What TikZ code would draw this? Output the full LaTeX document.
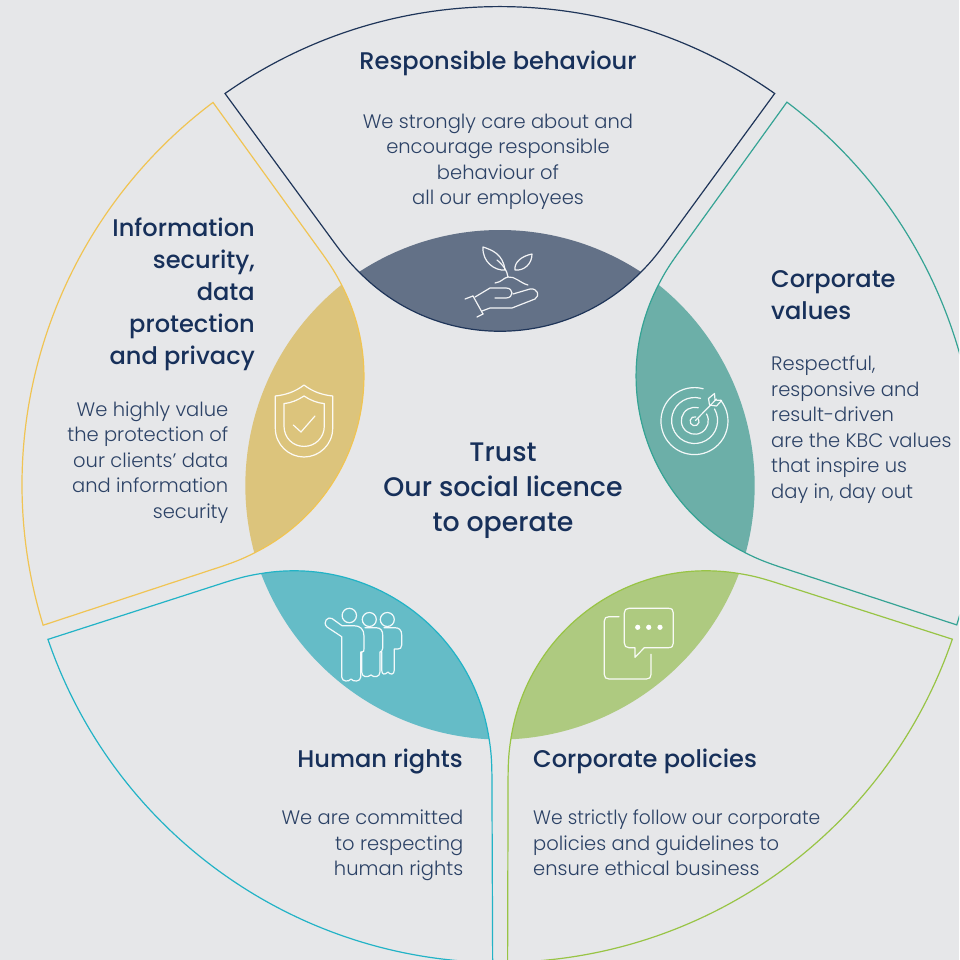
\documentclass[tikz,border=0pt]{standalone}
\usepackage{fontspec}
\setmainfont{Poppins}
\newfontfamily\bodyf{Poppins Light}
\newfontfamily\headf{Poppins Medium}
\definecolor{bgc}{HTML}{E6E7E9}
\definecolor{titlec}{HTML}{17305A}
\definecolor{bodyc}{HTML}{2C4266}
\definecolor{fillA}{HTML}{637187}\definecolor{lineA}{HTML}{1F3559}
\definecolor{fillB}{HTML}{6CAFA8}\definecolor{lineB}{HTML}{35A394}
\definecolor{fillC}{HTML}{AECA80}\definecolor{lineC}{HTML}{98C445}
\definecolor{fillD}{HTML}{65BCC7}\definecolor{lineD}{HTML}{22B3C6}
\definecolor{fillE}{HTML}{DCC47C}\definecolor{lineE}{HTML}{F0C453}
\tikzset{
  titletext/.style={inner sep=0pt,text=titlec,font=\headf\fontsize{24.1}{32}\selectfont},
  bodytext/.style={inner sep=0pt,text=bodyc,font=\bodyf\fontsize{19.5}{25.5}\selectfont},
  centertext/.style={inner sep=0pt,text=titlec,font=\headf\fontsize{26.8}{35}\selectfont},
  icon/.style={draw=white,line width=1.2pt,line cap=round,line join=round,opacity=.92},
}
\newcommand{\petal}[3]{%
  \begin{scope}[rotate around={#1:(500,484.5)}]
    \fill[#2] (359,272) .. controls (444.6,216) and (555.4,216) .. (641,272)
       .. controls (563.4,351) and (436.6,351) .. (359,272) -- cycle;
    \draw[#3,line width=1.2pt,line join=miter] (225,93.5) arc[start angle=-125.1,end angle=-54.9,radius=478]
       -- (664,245) .. controls (655,257) and (650,263) .. (641,272)
       .. controls (563.4,351) and (436.6,351) .. (359,272)
       .. controls (350,263) and (345,257) .. (336,245) -- cycle;
  \end{scope}}
\begin{document}
\begin{tikzpicture}[x=1pt,y=1pt,yscale=-1]
\useasboundingbox (0,0) rectangle (959,960);
\fill[bgc] (0,0) rectangle (959,960);
\clip (0,0) rectangle (959,960);
\petal{0}{fillA}{lineA}
\petal{72}{fillB}{lineB}
\petal{144}{fillC}{lineC}
\petal{216}{fillD}{lineD}
\petal{288}{fillE}{lineE}

% texts
\node[titletext,anchor=north] (t1) at (498,51) {Responsible behaviour};
\node[bodytext,anchor=north,align=center] (b1) at (498,113.5) {We strongly care about and\\encourage responsible\\behaviour of\\all our employees};
\node[titletext,anchor=north east,align=right] (t2) at (255,218) {Information\\security,\\data\\protection\\and privacy};
\node[bodytext,anchor=north east,align=right] (b2) at (228.5,401.5) {We highly value\\the protection of\\our clients’ data\\and information\\security};
\node[titletext,anchor=north west,align=left] (t3) at (771,270) {Corporate\\values};
\node[bodytext,anchor=north west,align=left] (b3) at (771,356) {Respectful,\\responsive and\\result-driven\\are the KBC values\\that inspire us\\day in, day out};
\node[titletext,anchor=north east] (t4) at (463,749) {Human rights};
\node[bodytext,anchor=north east,align=right] (b4) at (463.5,810) {We are committed\\to respecting\\human rights};
\node[titletext,anchor=north west] (t5) at (533,749) {Corporate policies};
\node[bodytext,anchor=north west,align=left] (b5) at (533,810) {\scalebox{0.96}[1]{We strictly follow our corporate}\\policies and guidelines to\\ensure ethical business};
\node[centertext,anchor=north,align=center] (c) at (503,443) {Trust\\Our social licence\\to operate};

% plant and hand icon
\draw[icon] (483,247) .. controls (492,250) and (503,254) .. (505,270)
   .. controls (495,271) and (482,262) .. (483,247) -- cycle;
\draw[icon] (497,260) .. controls (503,265) and (507,270) .. (508,277);
\draw[icon] (532,254) .. controls (522,256) and (514,262) .. (515,270)
   .. controls (524,271) and (532,264) .. (532,254) -- cycle;
\draw[icon] (495,283) .. controls (502,282) and (503,278) .. (508,277)
   .. controls (515,276) and (520,283) .. (528,285);
\draw[icon] (465,299) -- (473,296);
\draw[icon] (473,296) -- (483,314);
\draw[icon] (477,317) -- (483,314);
\draw[icon] (475,297) -- (490,288) -- (506,288) .. controls (514,288) and (514,298) .. (506,298) -- (495,298);
\draw[icon] (513,294) -- (530,289) .. controls (538,288) and (540,296) .. (535,299)
   -- (512,308) -- (490,308) -- (482,311);

% target icon
\draw[icon] (720.5,400) arc[start angle=-39,end angle=285,radius=33.5];
\draw[icon] (714.5,409) arc[start angle=-30,end angle=285,radius=23];
\draw[icon] (706.5,414) arc[start angle=-30,end angle=285,radius=13.5];
\draw[icon] (698.5,419) arc[start angle=-30,end angle=285,radius=4.5];
\draw[icon] (695.5,420.5) -- (716.5,399);
\draw[icon] (709.5,405) -- (708.5,398.5) -- (714.5,393.5) -- (715,400) -- (721.5,400.5) -- (716.5,406) -- cycle;

% people icon
\draw[icon] (349.3,615.5) circle[radius=7.2];
\draw[icon] (369.3,619.5) circle[radius=7];
\draw[icon] (387.3,619.5) circle[radius=7];
\draw[icon] (342,625.7) -- (332,618.5) .. controls (328,616) and (322,622) .. (327,627)
   -- (341.7,636.7) -- (341.7,677) .. controls (342,682) and (349,682) .. (351,679)
   .. controls (353,682) and (360.7,682) .. (360.7,677) -- (360.7,652) -- (362,652)
   .. controls (364,652) and (364,651) .. (364,648) -- (364,636)
   .. controls (364,629) and (360,625.7) .. (354,625.7) -- (342,625.7);
\draw[icon] (365,627.7) -- (376,627.7) .. controls (381,627.7) and (382.7,631) .. (382.7,635)
   -- (382.7,648) .. controls (382.7,651) and (381,652) .. (380,652)
   -- (380,672) .. controls (380,677) and (374,678) .. (371,675)
   .. controls (367,678) and (361.7,677) .. (361.7,672) -- (361.7,652);
\draw[icon] (384,627.7) -- (395,627.7) .. controls (399,627.7) and (401.7,630) .. (401.7,635)
   -- (401.7,645) .. controls (401.7,648) and (400,649) .. (398,649) -- (394.3,649)
   -- (394.3,670) .. controls (394.3,675) and (390,675) .. (388,672)
   .. controls (385,675) and (381.7,675) .. (381.7,670) -- (381.7,652);

% speech icon
\draw[icon] (635,647.7) -- (635,657.3) -- (644.3,647.7) -- (668.5,647.7)
   .. controls (672,647.7) and (673.3,646) .. (673.3,643) -- (673.3,613)
   .. controls (673.3,610) and (672,608.3) .. (668.5,608.3) -- (629,608.3)
   .. controls (626,608.3) and (624.3,610) .. (624.3,613) -- (624.3,643)
   .. controls (624.3,646) and (626,647.7) .. (629,647.7) -- cycle;
\fill[white] (637.7,627.3) circle[radius=2.6] (648.7,627.3) circle[radius=2.6] (660,627.3) circle[radius=2.6];
\draw[icon] (619,616.7) -- (609,616.7) .. controls (606,616.7) and (604.3,618) .. (604.3,621)
   -- (604.3,674.5) .. controls (604.3,677.5) and (606,679) .. (609,679) -- (646.5,679)
   .. controls (649.5,679) and (651,677.5) .. (651,674.5) -- (651,654.3);

% shield icon
\draw[icon] (304,385) .. controls (295,392) and (285,395) .. (275.3,396) -- (275.3,428)
   .. controls (275.3,445) and (289,457) .. (304,457)
   .. controls (319,457) and (332.7,445) .. (332.7,428) -- (332.7,396)
   .. controls (323,395) and (313,392) .. (304,385) -- cycle;
\draw[icon] (304,396) .. controls (298,400) and (291,403) .. (284,403.6) -- (284,426)
   .. controls (284,438) and (293,446.4) .. (304,446.4)
   .. controls (315,446.4) and (324.3,438) .. (324.3,426) -- (324.3,403.6)
   .. controls (317,403) and (310,400) .. (304,396) -- cycle;
\draw[icon] (293.3,425) -- (301,432) -- (315,416);
\end{tikzpicture}
\end{document}
